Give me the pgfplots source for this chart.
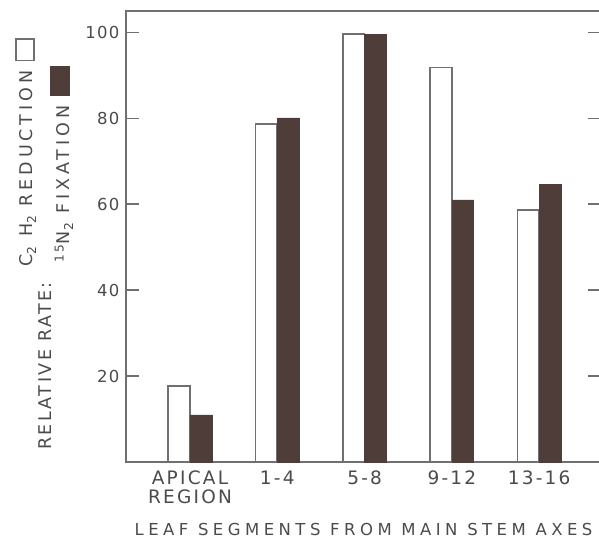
\documentclass[border=0pt]{standalone}
\usepackage{fontspec}
\setmainfont{DejaVu Sans}
\newfontfamily\tickfont[LetterSpace=8]{DejaVu Sans}
\newfontfamily\catfont[LetterSpace=12]{DejaVu Sans}
\newfontfamily\xlfont[LetterSpace=27]{DejaVu Sans}
\newfontfamily\ylfont[LetterSpace=22]{DejaVu Sans}
\newfontfamily\rrfont[LetterSpace=14]{DejaVu Sans}
\usepackage{pgfplots}
\pgfplotsset{compat=1.18}
\definecolor{axgray}{RGB}{112,112,112}
\definecolor{txtgray}{RGB}{75,75,75}
\definecolor{bardark}{RGB}{78,61,57}
\begin{document}
\begin{tikzpicture}
\begin{axis}[
  at={(0,0)}, anchor=south west,
  scale only axis,
  width=475pt, height=451pt,
  xmin=-0.733, xmax=4.708,
  ymin=0, ymax=105,
  ybar=0pt, bar width=0.25,
  axis line style={draw=axgray, line width=1.6pt},
  ytick={20,40,60,80,100},
  ytick pos=both, yticklabel pos=left,
  tick align=inside,
  major tick length=13pt,
  ytick style={draw=axgray, line width=1.6pt},
  yticklabel style={font=\tickfont\fontsize{16.5}{18}\selectfont, text=txtgray, xshift=-3pt},
  /pgf/number format/assume math mode=true,
  xtick={0,1,2,3,4},
  xticklabels={APICAL\\REGION, 1-4, 5-8, 9-12, 13-16},
  xtick style={draw=none},
  xticklabel style={font=\catfont\fontsize{18.5}{19}\selectfont, text=txtgray, align=center, anchor=north, inner sep=0pt, yshift=-9pt},
  xlabel={LEAF SEGMENTS FROM MAIN STEM AXES},
  xlabel style={font=\xlfont\fontsize{16.5}{18}\selectfont, text=txtgray, at={(axis description cs:0.5,0)}, anchor=base, yshift=-73pt, inner sep=0pt},
]
\addplot[draw=axgray, fill=white, line width=1.6pt] coordinates {(0,17.7) (1,78.7) (2,99.6) (3,91.8) (4,58.7)};
\addplot[draw=bardark, fill=bardark, line width=0.5pt] coordinates {(0,11.0) (1,80.1) (2,99.6) (3,61.0) (4,64.7)};
\end{axis}
\node[rotate=90, anchor=base west, inner sep=0pt, text=txtgray, font=\rrfont\fontsize{17.5}{18}\selectfont] at (-74pt,12pt) {RELATIVE RATE:};
\node[rotate=90, anchor=base west, inner sep=0pt, text=txtgray, font=\ylfont\fontsize{17.5}{18}\selectfont] at (-93pt,195pt) {C\textsubscript{2} H\textsubscript{2} REDUCTION {\setlength{\fboxsep}{0pt}\setlength{\fboxrule}{1.6pt}\fcolorbox{axgray}{white}{\rule{0pt}{16pt}\hspace{20pt}}}};
\node[rotate=90, anchor=base west, inner sep=0pt, text=txtgray, font=\ylfont\fontsize{17.5}{18}\selectfont] at (-56pt,199pt) {\textsuperscript{15}N\textsubscript{2} FIXATION {\color{bardark}\rule{30pt}{20pt}}};
\pgfresetboundingbox
\path[use as bounding box] (-126pt,-77pt) rectangle (473pt,462pt);
\end{tikzpicture}
\end{document}
